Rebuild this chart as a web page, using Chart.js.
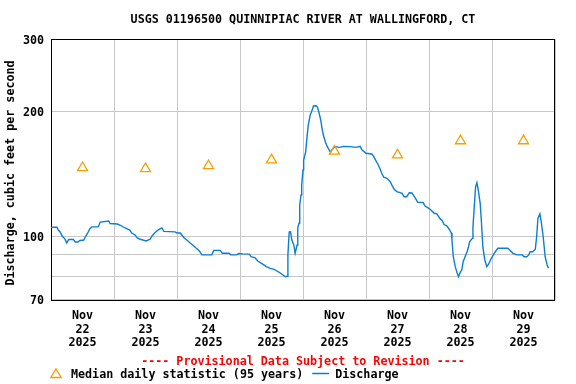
<!DOCTYPE html>
<html>
<head>
<meta charset="utf-8">
<script src="https://cdn.jsdelivr.net/npm/chart.js@4.4.1/dist/chart.umd.min.js"></script>
<style>
  html, body { margin: 0; padding: 0; background: #fff; }
</style>
</head>
<body>
<canvas id="myChart" width="576" height="384"></canvas>
<script>
// hours since Nov 22 2025 00:00
var hours = [
    0, 2.25, 2.75, 3.5, 4.25, 5.25, 6, 6.75, 8.5, 9.25, 10.25, 11, 12.5, 13.25, 14, 14.75, 15.5, 18, 18.75, 22, 22.5,
    25.25, 26.25, 27.75, 29, 30, 30.75, 32, 32.75, 34, 36.25, 37.75, 38.5, 39.5, 40.5, 41.5, 42.25, 43, 47.25,
    48, 49.25, 50, 50.75, 51.75, 53, 54, 55.25, 56.5, 57.5, 61.25, 62, 64.5, 65.25, 67.75, 68.5, 70.75, 71.5,
    73, 75.5, 76.25, 77.75, 78.75, 80.5, 82, 83.5, 85, 85.75, 86.75, 88, 89.25, 90, 90.25, 90.75, 91.25, 91.75,
    92.5, 93, 93.75, 94, 94.5, 94.75, 95.25, 95.5,
    96, 96.25, 97, 97.5, 98, 98.75, 99.5, 100, 101, 101.5, 102, 102.75, 103.25, 103.75, 104.5, 105.25, 106,
    106.5, 107, 107.75, 108.5, 110, 111.5, 114, 116.25, 117.75, 118.5,
    120, 122.25, 123, 123.75, 124.5, 125.25, 126, 126.75, 128, 129.25, 130, 130.75, 131.75, 133.75, 134.5,
    135.5, 136.5, 137.5, 138.25, 139, 139.75, 141.75, 142.5,
    143.5, 144.75, 146, 147, 148.25, 149, 149.75, 150.75, 151.5, 152.5, 152.75, 153.25, 154, 154.75, 155.25,
    155.75, 156.5, 157, 157.75, 158.5, 159, 159.5, 160.5, 160.75, 161.25, 161.75, 162.25, 162.75, 163.5, 164,
    164.5, 165.25, 166, 166.75, 167.75,
    168.5, 169.25, 170.25, 174, 174.75, 176, 177.5, 179.5, 180.25, 181.25, 182, 182.5, 183.5, 184.5, 185,
    185.5, 186.25, 186.75, 187.5, 188.25, 189, 189.5
];
// discharge, ft3/s
var discharge = [
    105.0, 105.0, 103.4, 102.3, 100.0, 98.4, 96.2, 98.1, 98.1, 96.7, 96.7, 97.5, 97.8, 100.0, 101.7, 104.0, 105.2, 105.2, 108.1, 108.7, 107.2,
    106.9, 106.2, 105.0, 104.0, 103.4, 101.7, 100.6, 99.1, 98.2, 97.3, 98.2, 100.0, 101.7, 103.1, 104.0, 104.6, 102.6, 102.3,
    101.7, 101.7, 100.3, 98.9, 97.8, 96.2, 95.1, 93.5, 92.0, 90.0, 90.0, 92.3, 92.3, 90.8, 90.8, 90.0, 90.0, 90.7,
    90.5, 90.4, 89.1, 88.5, 87.0, 85.6, 84.3, 83.5, 83.0, 82.5, 81.8, 80.8, 79.7, 79.9, 90.0, 102.3, 102.4, 97.8,
    95.1, 90.8, 95.1, 104.6, 107.5, 118.9, 125.7, 132.9,
    144.5, 152.8, 159.7, 172.8, 185.7, 196.4, 202.0, 206.5, 206.8, 205.3, 200.0, 191.0, 182.3, 175.6, 169.2, 164.6, 161.5,
    159.5, 161.5, 163.9, 164.6, 163.9, 164.8, 164.6, 163.9, 164.8, 161.5,
    158.6, 158.0, 155.4, 152.2, 149.4, 145.9, 141.9, 138.8, 138.0, 135.4, 132.2, 129.8, 128.0, 126.9, 124.5,
    124.5, 127.3, 127.1, 125.0, 122.9, 120.6, 120.5, 118.2,
    117.1, 115.6, 113.5, 113.1, 110.0, 109.1, 106.6, 105.8, 104.3, 101.7, 97.8, 89.1, 84.3, 81.2, 79.7,
    81.2, 82.8, 86.6, 89.1, 91.6, 93.9, 96.9, 98.7, 105.3, 117.8, 131.6, 134.6, 129.3, 120.0, 107.4,
    94.2, 87.5, 84.3, 85.6, 88.3,
    90.0, 91.6, 93.4, 93.4, 92.5, 90.8, 90.0, 90.0, 89.1, 89.1, 90.0, 91.6, 91.6, 92.9, 99.6,
    110.4, 113.1, 108.3, 99.6, 89.1, 85.1, 83.5
];

// median daily statistic, one per day (plotted at noon)
var medianHours = [12, 36, 60, 84, 108, 132, 156, 180];
var medianValues = [146.3, 145.5, 147.9, 152.8, 160.4, 157.1, 170.0, 170.0];

var dayLabels = [
    ['Nov', '22', '2025'], ['Nov', '23', '2025'], ['Nov', '24', '2025'], ['Nov', '25', '2025'],
    ['Nov', '26', '2025'], ['Nov', '27', '2025'], ['Nov', '28', '2025'], ['Nov', '29', '2025']
];
var yTicks = [70, 80, 90, 100, 200, 300];
var yLabeled = [70, 100, 200, 300];

var FONT = "'DejaVu Sans Mono', 'Liberation Mono', monospace";
var LINE_COLOR = '#0a7ed2';
var MEDIAN_COLOR = '#f5a000';
var GRID_COLOR = '#c8c8c8';

Chart.defaults.font.family = FONT;
Chart.defaults.font.size = 11.7;
Chart.defaults.font.weight = 'bold';
Chart.defaults.color = '#000';

// box around the plot + custom legend row at the bottom
var plotBox = {
    id: 'plotBox',
    beforeDatasetsDraw: function(chart) {
        var a = chart.chartArea, ctx = chart.ctx;
        ctx.save();
        ctx.strokeStyle = '#000';
        ctx.lineWidth = 1;
        ctx.strokeRect(Math.round(a.left) + 0.5, Math.round(a.top) + 0.5,
            Math.round(a.right - a.left) - 1, Math.round(a.bottom - a.top));
        ctx.restore();
    },
    afterDraw: function(chart) {
        var ctx = chart.ctx;
        var left = chart.chartArea.left;
        var y = chart.height - 9.5;
        ctx.save();
        ctx.font = 'bold 11.7px ' + FONT;
        ctx.textBaseline = 'middle';
        ctx.fillStyle = '#000';

        // triangle marker
        ctx.strokeStyle = MEDIAN_COLOR;
        ctx.lineWidth = 1.3;
        ctx.beginPath();
        ctx.moveTo(left + 5, y - 5.7);
        ctx.lineTo(left + 10.2, y + 3);
        ctx.lineTo(left - 0.2, y + 3);
        ctx.closePath();
        ctx.stroke();

        var t1 = chart.data.datasets[0].label;
        var x = left + 20;
        ctx.fillText(t1, x, y);
        x += ctx.measureText(t1).width + 9;

        // line sample
        ctx.strokeStyle = LINE_COLOR;
        ctx.lineWidth = 1.5;
        ctx.beginPath();
        ctx.moveTo(x, y - 1);
        ctx.lineTo(x + 17, y - 1);
        ctx.stroke();

        ctx.fillText(chart.data.datasets[1].label, x + 23, y);
        ctx.restore();
    }
};

var ctx = document.getElementById('myChart').getContext('2d');
var myChart = new Chart(ctx, {
    type: 'line',
    data: {
        datasets: [{
            label: 'Median daily statistic (95 years)',
            data: medianHours.map(function(h, i) { return {x: h, y: medianValues[i]}; }),
            showLine: false,
            pointStyle: 'triangle',
            pointRadius: 5.8,
            pointHoverRadius: 5.8,
            borderColor: MEDIAN_COLOR,
            backgroundColor: 'rgba(0,0,0,0)',
            pointBorderWidth: 1.3
        }, {
            label: 'Discharge',
            data: hours.map(function(h, i) { return {x: h, y: discharge[i]}; }),
            borderColor: LINE_COLOR,
            borderWidth: 1.4,
            pointRadius: 0,
            tension: 0,
            fill: false
        }]
    },
    options: {
        responsive: false,
        animation: false,
        layout: { padding: { left: 0, right: 21, top: 0, bottom: 15 } },
        plugins: {
            legend: { display: false },
            tooltip: { enabled: false },
            title: {
                display: true,
                fullSize: false,
                text: 'USGS 01196500 QUINNIPIAC RIVER AT WALLINGFORD, CT',
                color: '#000',
                font: { size: 11.7, weight: 'bold' },
                padding: { top: 13, bottom: 11.96 }
            },
            subtitle: {
                display: true,
                position: 'bottom',
                fullSize: false,
                text: '---- Provisional Data Subject to Revision ----',
                color: '#ff0000',
                font: { size: 11.7, weight: 'bold' },
                padding: { top: 3.0, bottom: 0 }
            }
        },
        scales: {
            x: {
                type: 'linear',
                min: 0,
                max: 192,
                afterBuildTicks: function(axis) {
                    var t = [];
                    for (var h = 0; h <= 192; h += 12) t.push({ value: h });
                    axis.ticks = t;
                },
                afterFit: function(axis) { axis.height = 52; },
                ticks: {
                    autoSkip: false,
                    maxRotation: 0,
                    padding: 9.5,
                    font: { lineHeight: 1.145 },
                    callback: function(v) {
                        return v % 24 === 12 ? dayLabels[(v - 12) / 24] : '';
                    }
                },
                grid: {
                    drawTicks: false,
                    color: function(c) {
                        return c.tick && c.tick.value % 24 === 0 ? GRID_COLOR : 'rgba(0,0,0,0)';
                    }
                },
                border: { display: false }
            },
            y: {
                type: 'logarithmic',
                min: 70,
                max: 300,
                afterBuildTicks: function(axis) {
                    axis.ticks = yTicks.map(function(v) { return { value: v }; });
                },
                afterFit: function(axis) { axis.width = 51; },
                ticks: {
                    autoSkip: false,
                    padding: 7,
                    labelOffset: 1.5,
                    callback: function(v) {
                        return yLabeled.indexOf(v) >= 0 ? String(v) : '';
                    }
                },
                grid: { drawTicks: false, color: GRID_COLOR },
                border: { display: false },
                title: {
                    display: true,
                    text: 'Discharge, cubic feet per second ',
                    padding: { top: 4, bottom: 0 }
                }
            }
        }
    },
    plugins: [plotBox]
});
</script>
</body>
</html>
